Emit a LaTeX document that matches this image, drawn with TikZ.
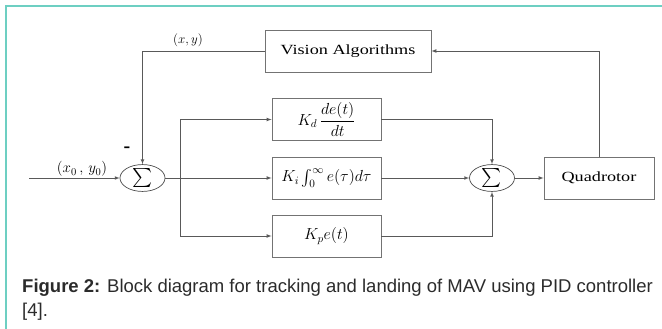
\RequirePackage{fix-cm}
\documentclass[tikz,border=0pt]{standalone}
\usepackage{amsmath,amssymb}
\usepackage{fontspec}
\setmainfont{Liberation Serif}
\newfontfamily\capfont{Liberation Sans}
\newfontfamily\blockfont[FakeStretch=1.3]{Liberation Serif}
\usepackage{tikz}
\usetikzlibrary{shapes.geometric}
\definecolor{framecol}{HTML}{6DCFC2}
\definecolor{capcol}{HTML}{2B2B2B}

\begin{document}
\begin{tikzpicture}[x=1pt,y=-1pt,
    block/.style={draw=black!55,line width=0.8pt,minimum width=109pt,minimum height=42pt,inner sep=0pt,font=\blockfont\fontsize{14}{16}\selectfont},
    sumnode/.style={ellipse,draw=black!70,line width=0.7pt,minimum width=45pt,minimum height=26pt,inner sep=0pt,font=\fontsize{19}{21}\selectfont},
    wire/.style={draw=black!65,line width=0.7pt},
    lab/.style={inner sep=0pt,font=\fontsize{13}{15}\selectfont}]
  \useasboundingbox (0,0) rectangle (662,329);
  \draw[framecol,line width=2pt] (662,6) -- (6,6) -- (6,329);

  \node[block,minimum width=166pt] (vision) at (348,51) {Vision Algorithms};
  \node[block,font=\fontsize{16}{18}\selectfont] (kd) at (326.5,119.5) {$K_d\,\dfrac{de(t)}{dt}$};
  \node[block,font=\fontsize{16}{18}\selectfont] (ki) at (326.5,178) {$K_i\int_0^\infty e(\tau)d\tau$};
  \node[block,font=\fontsize{16}{18}\selectfont] (kp) at (326.5,236) {$K_pe(t)$};
  \node[block,minimum width=110pt] (quad) at (599,178) {Quadrotor};
  \node[sumnode] (sum1) at (142.5,178) {$\sum$};
  \node[sumnode] (sum2) at (492,178) {$\sum$};

  \node[lab] (xylab) at (188,40) {$(x,y)$};
  \node[lab,font=\fontsize{15}{17}\selectfont] (inlab) at (82,169) {$(x_0\,,\,y_0)$};
  \node[lab,font=\fontsize{20}{20}\selectfont] (minus) at (127,150) {\textbf{-}};
  \coordinate (in) at (29,178);
  \coordinate (br) at (180,178);

  \draw[wire,-latex] (in) -- (sum1.west);
  \draw[wire,-latex] (vision.west) -| (sum1.north);
  \draw[wire,-latex] (sum1.east) -- (ki.west);
  \draw[wire,-latex] (br) |- (kd.west);
  \draw[wire,-latex] (br) |- (kp.west);
  \draw[wire,-latex] (kd.east) -| (sum2.north);
  \draw[wire,-latex] (ki.east) -- (sum2.west);
  \draw[wire,-latex] (kp.east) -| (sum2.south);
  \draw[wire,-latex] (sum2.east) -- (quad.west);
  \draw[wire,-latex] (quad.north) |- (vision.east);

  \node[anchor=north west,align=left,inner sep=0pt,text=capcol,font=\capfont\fontsize{18.5}{24}\selectfont] (caption) at (22,279)
    {\textbf{Figure 2:} Block diagram for tracking and landing of MAV using PID controller\\{[4].}};
\end{tikzpicture}
\end{document}
